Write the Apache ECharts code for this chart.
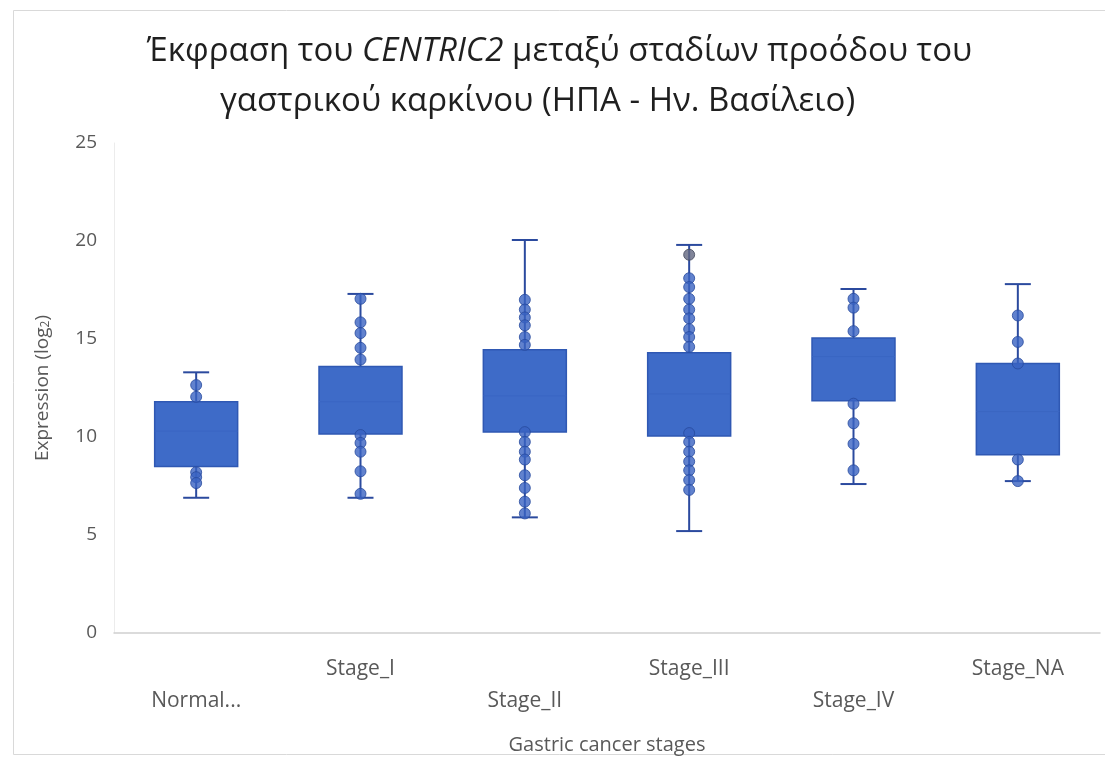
<!DOCTYPE html>
<html>
<head>
<meta charset="utf-8">
<script src="https://cdn.jsdelivr.net/npm/echarts@6/dist/echarts.min.js"></script>
<style>
  html, body { margin: 0; padding: 0; background: #fff; }
  #stageBoxChart { width: 1105px; height: 765px; }
</style>
</head>
<body>
<div id="stageBoxChart"></div>
<script>
// stages on the x axis
var categories = ["Normal...", "Stage_I", "Stage_II", "Stage_III", "Stage_IV", "Stage_NA"];

// box + whisker values (log2 expression)
var whiskerLow = [6.9, 6.9, 5.9, 5.2, 7.6, 7.75];
var q1 = [8.5, 10.15, 10.25, 10.05, 11.85, 9.1];
var median = [10.3, 11.8, 12.1, 12.2, 14.1, 11.3];
var q3 = [11.8, 13.6, 14.45, 14.3, 15.05, 13.75];
var whiskerHigh = [13.3, 17.3, 20.05, 19.8, 17.55, 17.8];

// single points drawn along each box (outside the box)
var pointsNormal = [12.65, 12.05, 8.2, 7.95, 7.65];
var pointsStageI = [17.05, 15.85, 15.3, 14.55, 13.95, 10.1, 9.7, 9.25, 8.25, 7.1];
var pointsStageII = [17.0, 16.5, 16.1, 15.7, 15.1, 14.7, 10.25, 9.75, 9.25, 8.85, 8.05, 7.4, 6.7, 6.1];
var pointsStageIII = [18.1, 17.65, 17.05, 16.5, 16.05, 15.5, 15.1, 14.6, 10.2, 9.75, 9.25, 8.75, 8.3, 7.8, 7.3];
var pointsStageIV = [17.05, 16.6, 15.4, 11.7, 10.7, 9.65, 8.3];
var pointsStageNA = [16.2, 14.85, 13.75, 8.85, 7.75];
var greyPoints = [[3, 19.3]];

// y axis ticks
var yMin = 0;
var yMax = 25;
var yStep = 5;

var allPoints = [pointsNormal, pointsStageI, pointsStageII, pointsStageIII, pointsStageIV, pointsStageNA];

var boxData = categories.map(function (c, i) {
  return [i, whiskerLow[i], q1[i], median[i], q3[i], whiskerHigh[i]];
});

var dotData = [];
allPoints.forEach(function (arr, i) {
  arr.forEach(function (v) {
    dotData.push([i, v]);
  });
});

var fontFam = "'Open Sans', 'Noto Sans', sans-serif";
var boxFill = "#3e6bc8";
var boxBorder = "#2f58b3";
var whiskerColor = "#2b4a9e";

var myChart = echarts.init(document.getElementById("stageBoxChart"));

var option = {
  backgroundColor: "#fff",
  animation: false,
  title: {
    left: "center",
    top: 22,
    text: "{a1|Έκφραση του }{i|CENTRIC2}{a| μεταξύ σταδίων προόδου του}\n{a2|γαστρικού καρκίνου (ΗΠΑ - Ην. Βασίλειο)}",
    textStyle: {
      fontWeight: "normal",
      rich: {
        a1: { fontFamily: fontFam, fontSize: 33, color: "#1f1f1f", lineHeight: 50, padding: [0, 0, 0, 14] },
        a: { fontFamily: fontFam, fontSize: 33, color: "#1f1f1f", lineHeight: 50 },
        i: { fontFamily: fontFam, fontSize: 33, color: "#1f1f1f", fontStyle: "italic", lineHeight: 50 },
        a2: { fontFamily: fontFam, fontSize: 33, color: "#1f1f1f", lineHeight: 50, padding: [0, 30, 0, 0] }
      }
    }
  },
  graphic: [
    {
      // light chart-area border
      type: "rect",
      left: 11,
      top: 8,
      shape: { width: 1110, height: 744 },
      style: { fill: "none", stroke: "#d9d9d9", lineWidth: 1 },
      silent: true
    }
  ],
  grid: {
    left: 114,
    right: 5,
    top: 143,
    bottom: 132
  },
  xAxis: {
    type: "category",
    data: categories,
    name: "Gastric cancer stages",
    nameLocation: "middle",
    nameGap: 102,
    nameTextStyle: { fontFamily: fontFam, fontSize: 20, color: "#595959" },
    axisLine: { lineStyle: { color: "#d0d0d0", width: 1.5 } },
    axisTick: { show: false },
    axisLabel: {
      interval: 0,
      margin: 20,
      fontFamily: fontFam,
      fontSize: 21,
      color: "#595959",
      lineHeight: 32,
      formatter: function (v, i) {
        return i % 2 === 0 ? "\n" + v : v;
      }
    },
    splitLine: { show: false }
  },
  yAxis: {
    type: "value",
    min: yMin,
    max: yMax,
    interval: yStep,
    name: "Expression (log{sub|2})",
    nameLocation: "middle",
    nameGap: 62,
    nameRotate: 90,
    nameTextStyle: {
      fontFamily: fontFam,
      fontSize: 19,
      color: "#595959",
      rich: {
        sub: { fontFamily: fontFam, fontSize: 12, color: "#595959", verticalAlign: "bottom", padding: [7, 0, 0, 0] }
      }
    },
    axisLine: { show: true, lineStyle: { color: "#ececec", width: 1 } },
    axisTick: { show: false },
    axisLabel: { fontFamily: fontFam, fontSize: 19, color: "#595959", margin: 17 },
    splitLine: { show: false }
  },
  series: [
    {
      type: "custom",
      name: "box",
      z: 2,
      data: boxData,
      encode: { x: 0, y: [1, 2, 3, 4, 5] },
      renderItem: function (params, api) {
        var i = api.value(0);
        var lowPt = api.coord([i, api.value(1)]);
        var q1Pt = api.coord([i, api.value(2)]);
        var medPt = api.coord([i, api.value(3)]);
        var q3Pt = api.coord([i, api.value(4)]);
        var highPt = api.coord([i, api.value(5)]);
        var bw = api.size([1, 0])[0] * 0.505;
        var cw = 26;
        var cx = lowPt[0];
        return {
          type: "group",
          children: [
            {
              type: "line",
              shape: { x1: cx, y1: lowPt[1], x2: cx, y2: highPt[1] },
              style: { stroke: whiskerColor, lineWidth: 2 }
            },
            {
              type: "line",
              shape: { x1: cx - cw / 2, y1: lowPt[1], x2: cx + cw / 2, y2: lowPt[1] },
              style: { stroke: whiskerColor, lineWidth: 2 }
            },
            {
              type: "line",
              shape: { x1: cx - cw / 2, y1: highPt[1], x2: cx + cw / 2, y2: highPt[1] },
              style: { stroke: whiskerColor, lineWidth: 2 }
            },
            {
              type: "rect",
              shape: { x: cx - bw / 2, y: q3Pt[1], width: bw, height: q1Pt[1] - q3Pt[1] },
              style: { fill: boxFill, stroke: boxBorder, lineWidth: 1.5 }
            },
            {
              type: "line",
              shape: { x1: cx - bw / 2, y1: medPt[1], x2: cx + bw / 2, y2: medPt[1] },
              style: { stroke: "#3a66c3", lineWidth: 1 }
            }
          ]
        };
      }
    },
    {
      type: "scatter",
      name: "points",
      z: 3,
      symbol: "circle",
      symbolSize: 11,
      itemStyle: { color: "#3a63c2", borderColor: "#274a9e", borderWidth: 1 },
      data: dotData
    },
    {
      type: "scatter",
      name: "grey point",
      z: 4,
      symbol: "circle",
      symbolSize: 11,
      itemStyle: { color: "#62677f", borderColor: "#44485c", borderWidth: 1 },
      data: greyPoints
    }
  ]
};

myChart.setOption(option);
</script>
</body>
</html>
